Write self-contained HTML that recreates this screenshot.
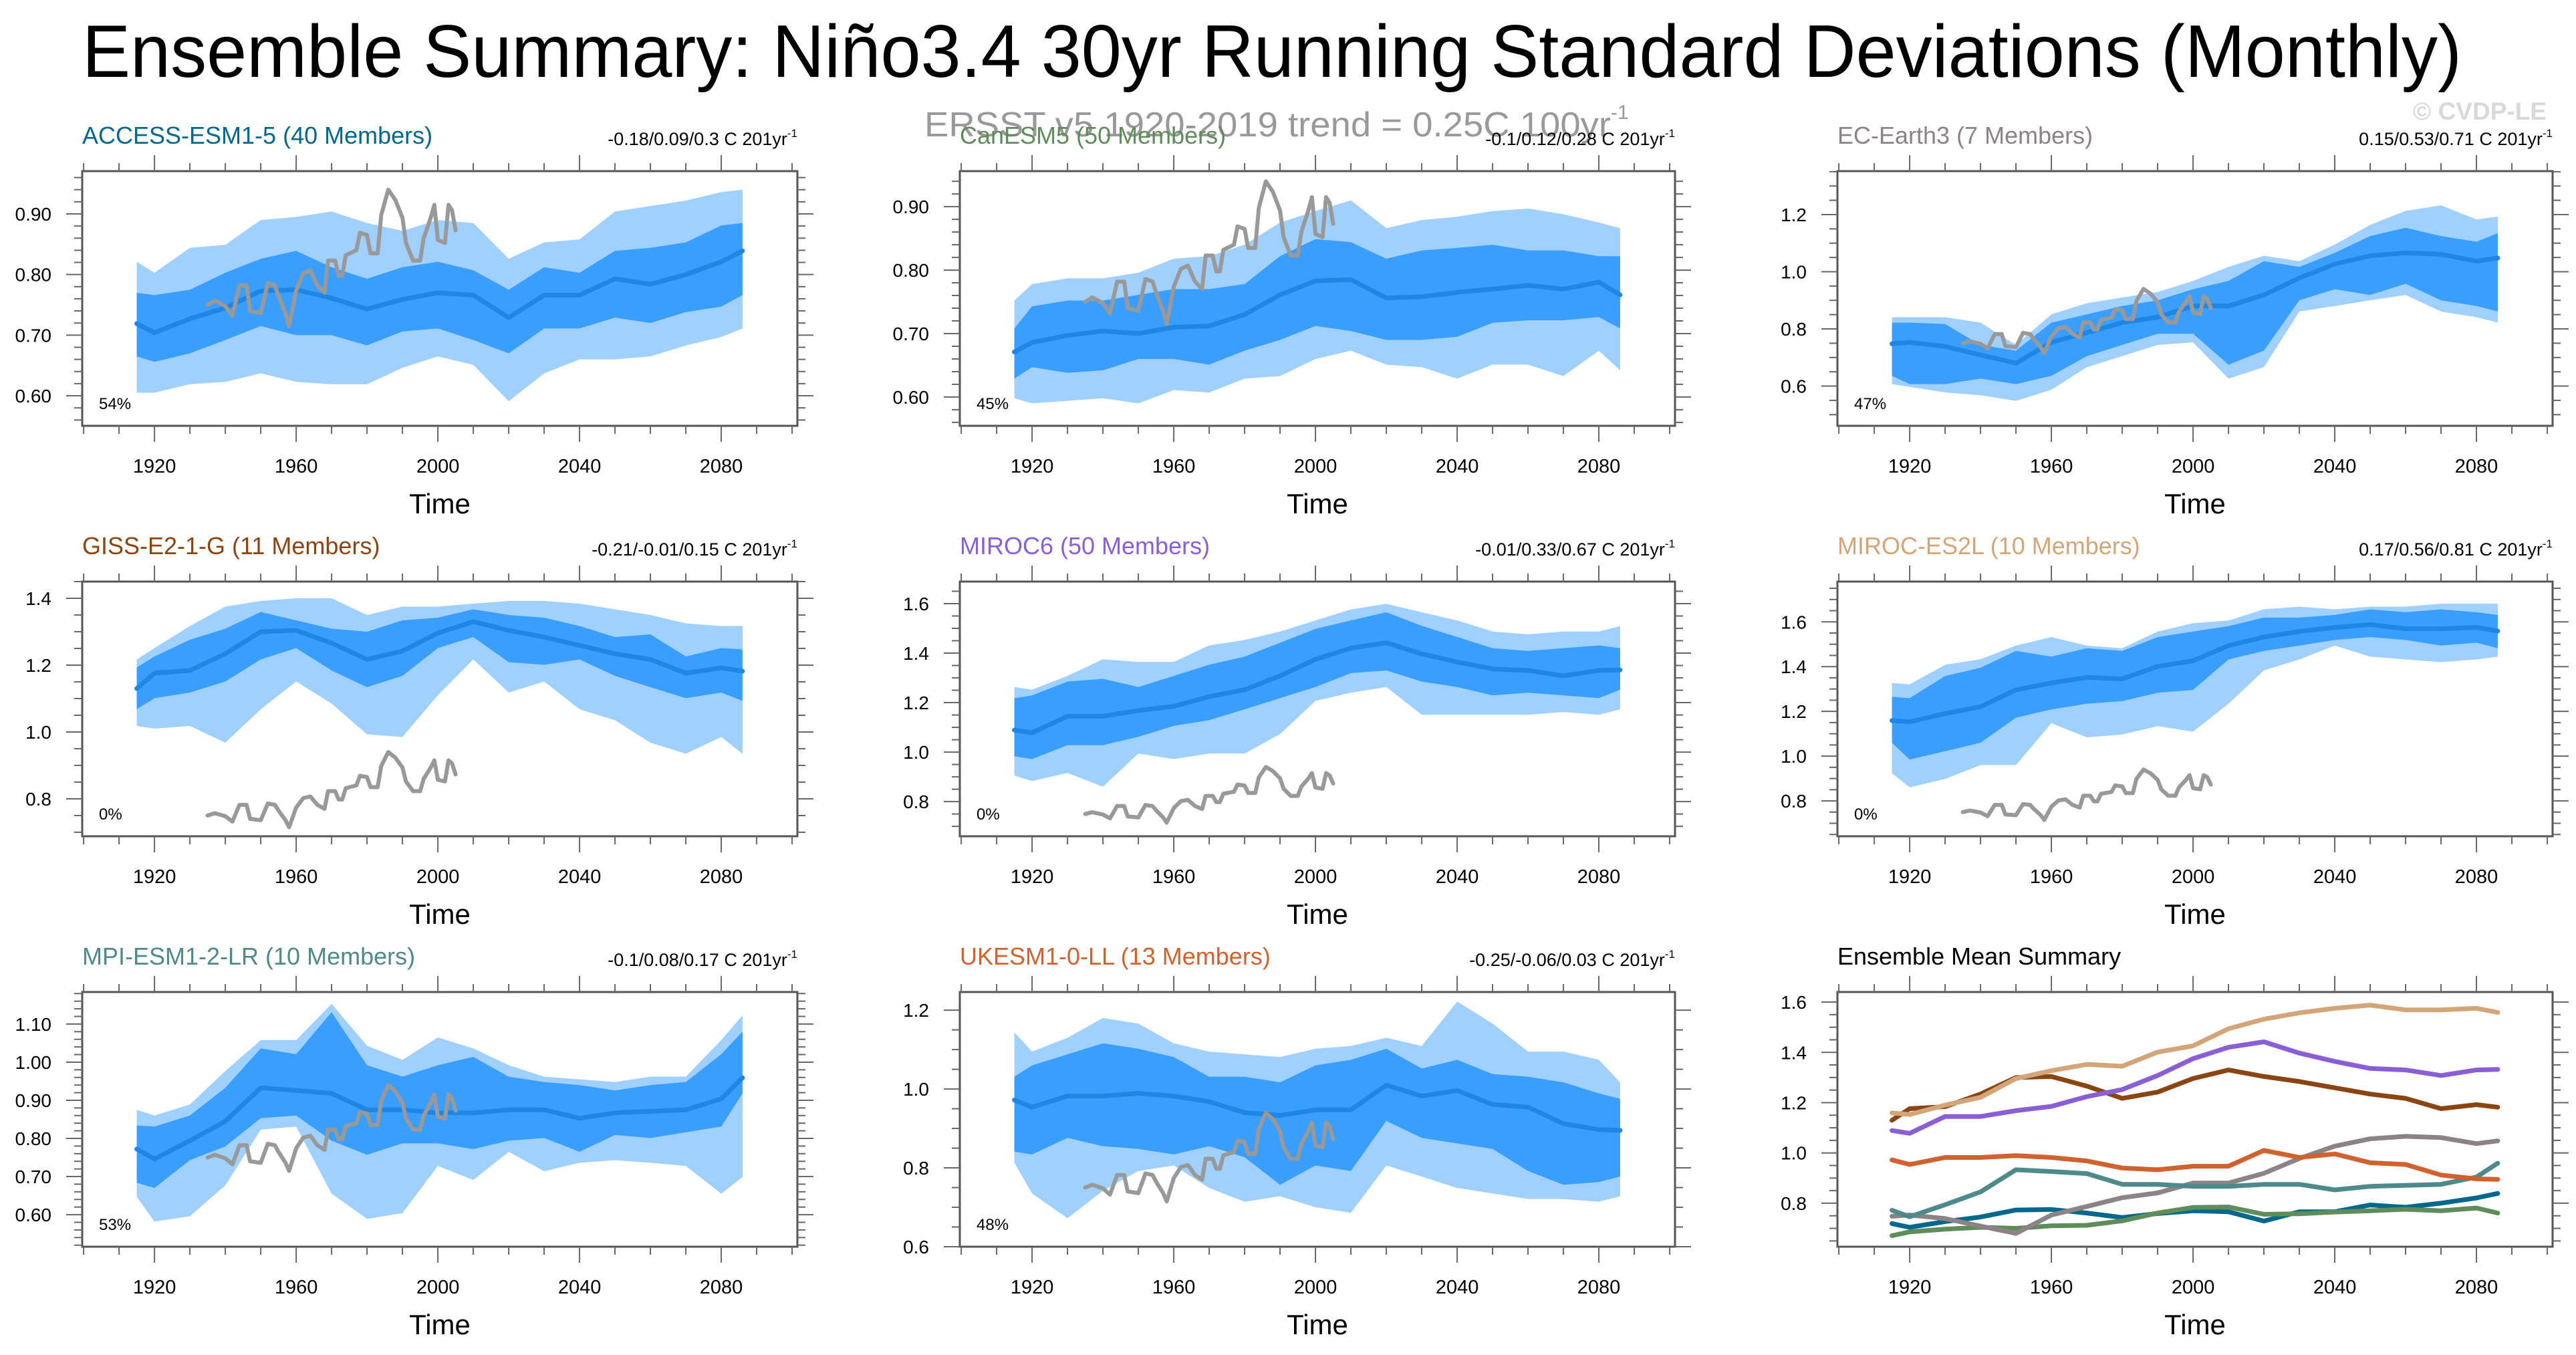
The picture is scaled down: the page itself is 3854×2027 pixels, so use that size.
<!DOCTYPE html>
<html><head><meta charset="utf-8"><title>Ensemble Summary Nino3.4</title>
<style>html,body{margin:0;padding:0;background:#fff}svg{display:block;font-family:"Liberation Sans",Arial,sans-serif}</style>
</head><body>
<svg id="fig" xmlns="http://www.w3.org/2000/svg" width="3854" height="2027" viewBox="0 0 3854 2027">
<rect width="3854" height="2027" fill="#fff"/>
<text x="123" y="115" font-size="111" textLength="3560" lengthAdjust="spacingAndGlyphs" fill="#000">Ensemble Summary: Niño3.4 30yr Running Standard Deviations (Monthly)</text>
<text x="1383" y="204" font-size="52" fill="#999"><tspan textLength="1027" lengthAdjust="spacingAndGlyphs">ERSST v5 1920-2019 trend = 0.25C 100yr</tspan><tspan font-size="30" dy="-26">-1</tspan></text>
<text x="3810" y="179" font-size="37" font-weight="bold" fill="#d9d9d9" text-anchor="end">© CVDP-LE</text>
<g id="panels"></g>
</svg>
<script>
const years=[1915,1920,1930,1940,1950,1960,1970,1980,1990,2000,2010,2020,2030,2040,2050,2060,2070,2080,2086];
const obsYears=[1935,1937,1940,1942,1944,1946,1947,1950,1952,1954,1955,1957,1958,1960,1962,1964,1966,1968,1969,1971,1972,1973,1974,1977,1978,1980,1981,1983,1984,1986,1988,1990,1991,1993,1995,1996,1998,1999,2000,2002,2003,2004,2005];
const obsValues=[0.75,0.757,0.748,0.732,0.782,0.782,0.74,0.736,0.786,0.782,0.765,0.736,0.715,0.774,0.802,0.807,0.782,0.77,0.823,0.823,0.798,0.798,0.832,0.84,0.869,0.865,0.835,0.835,0.898,0.94,0.923,0.894,0.852,0.823,0.823,0.86,0.894,0.915,0.857,0.852,0.915,0.906,0.873];

const accessMean=[0.719,0.704,0.727,0.745,0.773,0.775,0.761,0.743,0.759,0.770,0.766,0.729,0.766,0.766,0.793,0.784,0.80,0.821,0.839];
const accessDarkHi=[0.77,0.766,0.775,0.803,0.826,0.839,0.812,0.793,0.812,0.821,0.807,0.775,0.812,0.803,0.839,0.844,0.853,0.881,0.885];
const accessDarkLo=[0.665,0.656,0.67,0.692,0.715,0.70,0.70,0.683,0.706,0.711,0.692,0.67,0.711,0.711,0.729,0.72,0.738,0.747,0.766];
const accessLightHi=[0.821,0.803,0.844,0.849,0.89,0.895,0.904,0.885,0.872,0.89,0.885,0.826,0.853,0.858,0.904,0.913,0.922,0.936,0.94];
const accessLightLo=[0.605,0.605,0.619,0.623,0.637,0.623,0.619,0.619,0.646,0.665,0.651,0.591,0.637,0.66,0.66,0.665,0.683,0.697,0.711];

const canMean=[0.671,0.686,0.697,0.704,0.70,0.71,0.712,0.73,0.761,0.783,0.785,0.756,0.758,0.765,0.77,0.776,0.77,0.781,0.761];
const canDarkHi=[0.708,0.743,0.752,0.752,0.761,0.77,0.77,0.778,0.822,0.849,0.844,0.818,0.831,0.835,0.84,0.831,0.831,0.822,0.822];
const canDarkLo=[0.629,0.647,0.638,0.642,0.66,0.66,0.651,0.673,0.69,0.712,0.704,0.69,0.69,0.695,0.717,0.721,0.721,0.726,0.708];
const canLightHi=[0.752,0.778,0.787,0.787,0.796,0.818,0.822,0.84,0.875,0.893,0.91,0.866,0.879,0.884,0.893,0.897,0.888,0.875,0.866];
const canLightLo=[0.598,0.59,0.594,0.598,0.59,0.611,0.607,0.629,0.633,0.66,0.673,0.651,0.647,0.629,0.651,0.651,0.633,0.673,0.642];

const ecMean=[0.748,0.753,0.739,0.709,0.68,0.753,0.787,0.822,0.841,0.88,0.88,0.919,0.978,1.027,1.056,1.066,1.061,1.037,1.048];
const ecDarkHi=[0.822,0.822,0.817,0.744,0.724,0.822,0.851,0.88,0.9,0.939,0.968,1.037,1.017,1.066,1.125,1.154,1.125,1.105,1.135];
const ecDarkLo=[0.636,0.607,0.607,0.626,0.607,0.636,0.705,0.744,0.783,0.783,0.675,0.724,0.9,0.939,0.919,0.958,0.9,0.88,0.861];
const ecLightHi=[0.841,0.841,0.841,0.822,0.744,0.851,0.89,0.91,0.929,0.968,1.017,1.056,1.037,1.095,1.164,1.213,1.232,1.183,1.193];
const ecLightLo=[0.607,0.597,0.578,0.568,0.548,0.587,0.666,0.705,0.744,0.753,0.626,0.666,0.861,0.88,0.9,0.919,0.861,0.841,0.822];

const gissMean=[1.13,1.176,1.184,1.234,1.30,1.304,1.266,1.217,1.242,1.296,1.33,1.304,1.284,1.259,1.234,1.217,1.176,1.192,1.182];
const gissDarkHi=[1.193,1.226,1.276,1.309,1.359,1.334,1.309,1.30,1.334,1.342,1.367,1.35,1.342,1.317,1.284,1.292,1.226,1.251,1.247];
const gissDarkLo=[1.068,1.101,1.118,1.151,1.217,1.251,1.184,1.134,1.168,1.251,1.284,1.209,1.201,1.217,1.168,1.134,1.101,1.118,1.093];
const gissLightHi=[1.217,1.251,1.317,1.375,1.392,1.40,1.40,1.35,1.375,1.375,1.384,1.392,1.392,1.384,1.367,1.35,1.325,1.317,1.317];
const gissLightLo=[1.018,1.01,1.018,0.968,1.068,1.151,1.085,0.993,0.985,1.110,1.217,1.118,1.151,1.068,1.035,0.968,0.935,0.985,0.935];

const m6Mean=[1.089,1.078,1.145,1.145,1.168,1.185,1.224,1.252,1.308,1.375,1.42,1.442,1.397,1.364,1.336,1.33,1.308,1.33,1.332];
const m6DarkHi=[1.218,1.229,1.285,1.296,1.263,1.308,1.353,1.386,1.442,1.498,1.532,1.565,1.51,1.465,1.42,1.409,1.42,1.431,1.42];
const m6DarkLo=[0.983,0.972,1.028,1.028,1.062,1.106,1.129,1.173,1.218,1.263,1.319,1.33,1.285,1.263,1.229,1.24,1.229,1.218,1.252];
const m6LightHi=[1.263,1.252,1.308,1.375,1.364,1.364,1.431,1.453,1.487,1.532,1.576,1.599,1.565,1.532,1.487,1.476,1.487,1.487,1.509];
const m6LightLo=[0.905,0.883,0.916,0.86,0.994,0.972,0.994,0.994,1.073,1.207,1.24,1.263,1.151,1.151,1.151,1.151,1.162,1.151,1.173];

const es2lMean=[1.159,1.153,1.19,1.221,1.296,1.327,1.352,1.345,1.401,1.426,1.494,1.532,1.557,1.575,1.588,1.569,1.569,1.575,1.559];
const es2lDarkHi=[1.265,1.259,1.358,1.395,1.47,1.445,1.482,1.47,1.532,1.557,1.581,1.619,1.619,1.631,1.656,1.643,1.656,1.643,1.631];
const es2lDarkLo=[1.06,0.985,1.022,1.06,1.172,1.209,1.234,1.246,1.283,1.296,1.432,1.47,1.494,1.519,1.532,1.519,1.494,1.507,1.482];
const es2lLightHi=[1.327,1.321,1.408,1.433,1.494,1.532,1.494,1.482,1.557,1.594,1.606,1.656,1.668,1.656,1.668,1.668,1.681,1.681,1.681];
const es2lLightLo=[0.923,0.861,0.898,0.96,0.96,1.147,1.084,1.097,1.134,1.109,1.234,1.383,1.432,1.494,1.445,1.432,1.42,1.432,1.445];

const mpiMean=[0.772,0.746,0.794,0.845,0.933,0.926,0.918,0.875,0.875,0.867,0.867,0.875,0.875,0.853,0.867,0.871,0.875,0.904,0.959];
const mpiDarkHi=[0.834,0.831,0.86,0.933,1.036,1.021,1.131,0.992,0.962,0.992,1.014,0.962,0.948,0.94,0.926,0.94,0.948,1.021,1.08];
const mpiDarkLo=[0.684,0.67,0.743,0.779,0.853,0.86,0.794,0.757,0.787,0.787,0.772,0.794,0.801,0.765,0.809,0.801,0.816,0.831,0.918];
const mpiLightHi=[0.875,0.86,0.889,0.977,1.058,1.058,1.153,1.043,1.006,1.065,1.036,0.992,0.962,0.955,0.948,0.962,0.962,1.058,1.123];
const mpiLightLo=[0.647,0.582,0.596,0.677,0.823,0.831,0.655,0.589,0.604,0.728,0.691,0.765,0.714,0.736,0.743,0.736,0.728,0.655,0.699];

const ukMean=[0.972,0.954,0.982,0.982,0.989,0.982,0.968,0.94,0.933,0.947,0.947,1.01,0.982,0.996,0.961,0.954,0.912,0.897,0.895];
const ukDarkHi=[1.031,1.06,1.088,1.116,1.102,1.081,1.031,1.031,1.017,1.06,1.074,1.102,1.052,1.074,1.038,1.031,1.017,0.989,0.975];
const ukDarkLo=[0.841,0.834,0.876,0.855,0.848,0.834,0.855,0.827,0.757,0.806,0.792,0.919,0.876,0.862,0.848,0.792,0.757,0.764,0.778];
const ukLightHi=[1.144,1.095,1.13,1.18,1.166,1.116,1.095,1.088,1.081,1.102,1.109,1.13,1.109,1.222,1.166,1.095,1.095,1.074,1.017];
const ukLightLo=[0.813,0.735,0.672,0.742,0.792,0.806,0.749,0.714,0.728,0.7,0.686,0.806,0.778,0.749,0.735,0.721,0.721,0.714,0.728];

const NS='http://www.w3.org/2000/svg';
const root=document.getElementById('panels');
function mk(tag,attrs,parent){const e=document.createElementNS(NS,tag);for(const k in attrs)e.setAttribute(k,attrs[k]);(parent||root).appendChild(e);return e;}

const W=1070,H=381,XMIN=1899.6,XMAX=2101.5;
const panels=[
 {name:'ACCESS-ESM1-5 (40 Members)',color:'#00688b',trend:'-0.18/0.09/0.3 C 201yr',pct:'54%',col:0,row:0,y0:0.5504,y1:0.9706,maj:0.1,min:0.02,dec:2,ticks:[0.6,0.7,0.8,0.9],mean:accessMean,dh:accessDarkHi,dl:accessDarkLo,lh:accessLightHi,ll:accessLightLo},
 {name:'CanESM5 (50 Members)',color:'#5f8c5a',trend:'-0.1/0.12/0.28 C 201yr',pct:'45%',col:1,row:0,y0:0.5546,y1:0.956,maj:0.1,min:0.02,dec:2,ticks:[0.6,0.7,0.8,0.9],mean:canMean,dh:canDarkHi,dl:canDarkLo,lh:canLightHi,ll:canLightLo},
 {name:'EC-Earth3 (7 Members)',color:'#8b8386',trend:'0.15/0.53/0.71 C 201yr',pct:'47%',col:2,row:0,y0:0.461,y1:1.352,maj:0.2,min:0.05,dec:1,ticks:[0.6,0.8,1.0,1.2],mean:ecMean,dh:ecDarkHi,dl:ecDarkLo,lh:ecLightHi,ll:ecLightLo},
 {name:'GISS-E2-1-G (11 Members)',color:'#8b4513',trend:'-0.21/-0.01/0.15 C 201yr',pct:'0%',col:0,row:1,y0:0.688,y1:1.45,maj:0.2,min:0.05,dec:1,ticks:[0.8,1.0,1.2,1.4],mean:gissMean,dh:gissDarkHi,dl:gissDarkLo,lh:gissLightHi,ll:gissLightLo},
 {name:'MIROC6 (50 Members)',color:'#8a5fd6',trend:'-0.01/0.33/0.67 C 201yr',pct:'0%',col:1,row:1,y0:0.66,y1:1.689,maj:0.2,min:0.05,dec:1,ticks:[0.8,1.0,1.2,1.4,1.6],mean:m6Mean,dh:m6DarkHi,dl:m6DarkLo,lh:m6LightHi,ll:m6LightLo},
 {name:'MIROC-ES2L (10 Members)',color:'#d2a679',trend:'0.17/0.56/0.81 C 201yr',pct:'0%',col:2,row:1,y0:0.642,y1:1.78,maj:0.2,min:0.05,dec:1,ticks:[0.8,1.0,1.2,1.4,1.6],mean:es2lMean,dh:es2lDarkHi,dl:es2lDarkLo,lh:es2lLightHi,ll:es2lLightLo},
 {name:'MPI-ESM1-2-LR (10 Members)',color:'#4f8a8b',trend:'-0.1/0.08/0.17 C 201yr',pct:'53%',col:0,row:2,y0:0.516,y1:1.184,maj:0.1,min:0.02,dec:2,ticks:[0.6,0.7,0.8,0.9,1.0,1.1],mean:mpiMean,dh:mpiDarkHi,dl:mpiDarkLo,lh:mpiLightHi,ll:mpiLightLo},
 {name:'UKESM1-0-LL (13 Members)',color:'#d0622f',trend:'-0.25/-0.06/0.03 C 201yr',pct:'48%',col:1,row:2,y0:0.6,y1:1.246,maj:0.2,min:0.05,dec:1,ticks:[0.6,0.8,1.0,1.2],mean:ukMean,dh:ukDarkHi,dl:ukDarkLo,lh:ukLightHi,ll:ukLightLo},
 {name:'Ensemble Mean Summary',color:'#000',trend:null,pct:null,col:2,row:2,y0:0.627,y1:1.64,maj:0.2,min:0.05,dec:1,ticks:[0.8,1.0,1.2,1.4,1.6],summary:true}
];
const colX=[123,1436,2749],rowY=[256,870,1484];

panels.forEach((p,pi)=>{
  const L=colX[p.col],T=rowY[p.row];
  const g=mk('g',{});
  
  
  const xs=y=>L+(y-XMIN)/(XMAX-XMIN)*W;
  const ys=v=>T+H-(v-p.y0)/(p.y1-p.y0)*H;
  const cid='clip'+pi;
  const cp=mk('clipPath',{id:cid},g);mk('rect',{x:L,y:T,width:W,height:H},cp);
  const plot=mk('g',{'clip-path':'url(#'+cid+')'},g);
  function band(hi,lo,fill,nm){
    let d='M'+years.map((y,i)=>xs(y).toFixed(1)+','+ys(hi[i]).toFixed(1)).join('L');
    for(let i=years.length-1;i>=0;i--)d+='L'+xs(years[i]).toFixed(1)+','+ys(lo[i]).toFixed(1);
    const e=mk('path',{d:d+'Z',fill:fill},plot);
    
    
  }
  function line(xv,vals,stroke,w,nm){
    const e=mk('path',{d:'M'+xv.map((y,i)=>xs(y).toFixed(1)+','+ys(vals[i]).toFixed(1)).join('L'),fill:'none',stroke:stroke,'stroke-width':w,'stroke-linejoin':'round','stroke-linecap':'round'},plot);
    
    
  }
  if(p.summary){
    panels.slice(0,8).forEach(q=>line(years,q.mean,q.color,7,'summary-line-'+q.name.split(' ')[0].toLowerCase()));
  } else {
    band(p.lh,p.ll,'#a0d0ff','outer-spread-band');
    band(p.dh,p.dl,'#3a9eff','inner-spread-band');
    line(years,p.mean,'#1e87e5',7,'ensemble-mean-line');
    line(obsYears,obsValues,'#999999',6,'observed-line');
  }
  const fr=mk('rect',{x:L,y:T,width:W,height:H,fill:'none',stroke:'#555','stroke-width':3},g);
  
  
  for(let yr=1900;yr<=2100;yr+=10){
    const x=xs(yr),major=(yr-1920)%40===0,len=major?24:12;
    mk('line',{x1:x,y1:T+H,x2:x,y2:T+H+len,stroke:'#666','stroke-width':2},g);
    mk('line',{x1:x,y1:T,x2:x,y2:T-len,stroke:'#666','stroke-width':2},g);
    if(major){const t=mk('text',{x:x,y:T+H+70,'font-size':29,'text-anchor':'middle',fill:'#000'},g);t.textContent=String(yr);
      
      }
  }
  const n0=Math.ceil(p.y0/p.min-1e-6),n1=Math.floor(p.y1/p.min+1e-6);
  for(let n=n0;n<=n1;n++){
    const v=n*p.min,y=ys(v);
    const major=p.ticks.some(t=>Math.abs(t-v)<1e-6),len=major?24:12;
    mk('line',{x1:L,y1:y,x2:L-len,y2:y,stroke:'#666','stroke-width':2},g);
    mk('line',{x1:L+W,y1:y,x2:L+W+len,y2:y,stroke:'#666','stroke-width':2},g);
  }
  p.ticks.forEach(v=>{const t=mk('text',{x:L-46,y:ys(v)+10,'font-size':28,'text-anchor':'end',fill:'#000'},g);t.textContent=v.toFixed(p.dec);
    
    });
  const xt=mk('text',{x:L+W/2,y:T+H+131,'font-size':42,'text-anchor':'middle',fill:'#000'},g);xt.textContent='Time';
  
  
  const tt=mk('text',{x:L,y:T-41,'font-size':36,fill:p.color},g);tt.textContent=p.name;
  
  
  if(p.trend){
    const tr=mk('text',{x:L+W,y:T-39,'font-size':27,'text-anchor':'end',fill:'#000'},g);
    
    
    const a=mk('tspan',{},tr);a.textContent=p.trend;
    const b=mk('tspan',{'font-size':17,dy:-12},tr);b.textContent='-1';
  }
  if(p.pct){const pc=mk('text',{x:L+25,y:T+H-25,'font-size':24,fill:'#000'},g);pc.textContent=p.pct;
    
    }
});
</script>
</body></html>
